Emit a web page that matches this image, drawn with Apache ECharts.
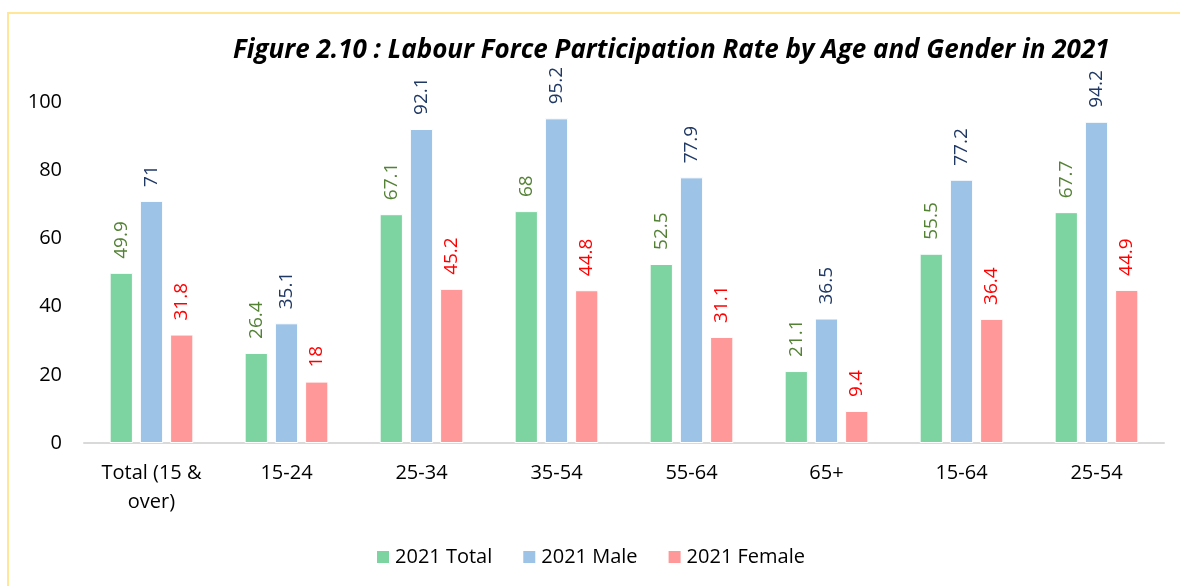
<!DOCTYPE html>
<html>
<head>
<meta charset="utf-8">
<script src="https://cdn.jsdelivr.net/npm/echarts@6/dist/echarts.min.js"></script>
<style>
  html, body { margin: 0; padding: 0; background: #fff; }
  #chart { width: 1180px; height: 586px; }
</style>
</head>
<body>
<div id="chart"></div>
<script>
const categories = ["Total (15 &\nover)", "15-24", "25-34", "35-54", "55-64", "65+", "15-64", "25-54"];
const totalValues = [49.9, 26.4, 67.1, 68, 52.5, 21.1, 55.5, 67.7];
const maleValues = [71, 35.1, 92.1, 95.2, 77.9, 36.5, 77.2, 94.2];
const femaleValues = [31.8, 18, 45.2, 44.8, 31.1, 9.4, 36.4, 44.9];
const yTicks = { min: 0, max: 100, interval: 20 };

const FONT = "'Open Sans', 'Noto Sans', sans-serif";

const chart = echarts.init(document.getElementById("chart"));

const makeSeries = (name, data, color, labelColor) => ({
  name,
  type: "bar",
  data,
  barGap: "30%",
  barCategoryGap: "38%",
  itemStyle: { color, borderColor: "#ffffff", borderWidth: 1 },
  label: {
    show: true,
    position: "top",
    rotate: 90,
    align: "left",
    verticalAlign: "middle",
    distance: 14,
    color: labelColor,
    fontFamily: FONT,
    fontSize: 19,
  },
});

chart.setOption({
  backgroundColor: "#ffffff",
  animation: false,
  title: {
    text: "Figure 2.10 : Labour Force Participation Rate by Age and Gender in 2021",
    left: 228,
    top: 33,
    textStyle: {
      fontFamily: FONT,
      fontSize: 26,
      fontWeight: "bold",
      fontStyle: "italic",
      color: "#000",
    },
  },
  graphic: [
    {
      type: "rect",
      silent: true,
      shape: { x: 8, y: 13, width: 1300, height: 700 },
      style: { fill: "none", stroke: "#ffe699", lineWidth: 2 },
    },
  ],
  legend: {
    bottom: 14,
    left: "center",
    itemWidth: 14,
    itemHeight: 14,
    itemGap: 29,
    itemTextGap: 5,
    icon: "rect",
    textStyle: { fontFamily: FONT, fontSize: 20, color: "#000" },
  },
  grid: { left: 84, right: 16, top: 102, bottom: 143 },
  xAxis: {
    type: "category",
    data: categories,
    axisLine: { lineStyle: { color: "#d9d9d9", width: 2 } },
    axisTick: { show: false },
    axisLabel: { color: "#000", fontFamily: FONT, fontSize: 20, margin: 16, lineHeight: 29 },
  },
  yAxis: {
    type: "value",
    min: yTicks.min,
    max: yTicks.max,
    interval: yTicks.interval,
    splitLine: { show: false },
    axisLine: { show: false },
    axisTick: { show: false },
    axisLabel: { color: "#000", fontFamily: FONT, fontSize: 20, margin: 22 },
  },
  series: [
    makeSeries("2021 Total", totalValues, "#7dd4a0", "#548235"),
    makeSeries("2021 Male", maleValues, "#9dc3e6", "#1f3864"),
    makeSeries("2021 Female", femaleValues, "#ff9999", "#ff0000"),
  ],
});
</script>
</body>
</html>
